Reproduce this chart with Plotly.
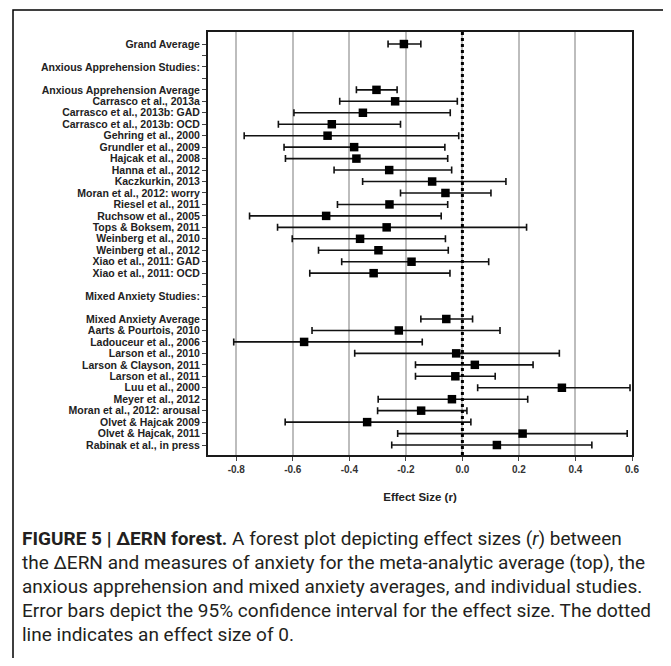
import plotly.graph_objects as go

# ---------------- data ----------------
study_labels = [
    "Grand Average", "", "Anxious Apprehension Studies:", "",
    "Anxious Apprehension Average",
    "Carrasco et al., 2013a", "Carrasco et al., 2013b: GAD", "Carrasco et al., 2013b: OCD",
    "Gehring et al., 2000", "Grundler et al., 2009", "Hajcak et al., 2008",
    "Hanna et al., 2012", "Kaczkurkin, 2013", "Moran et al., 2012: worry",
    "Riesel et al., 2011", "Ruchsow et al., 2005", "Tops & Boksem, 2011",
    "Weinberg et al., 2010", "Weinberg et al., 2012", "Xiao et al., 2011: GAD",
    "Xiao et al., 2011: OCD", "", "Mixed Anxiety Studies:", "",
    "Mixed Anxiety Average", "Aarts & Pourtois, 2010", "Ladouceur et al., 2006",
    "Larson et al., 2010", "Larson & Clayson, 2011", "Larson et al., 2011",
    "Luu et al., 2000", "Meyer et al., 2012", "Moran et al., 2012: arousal",
    "Olvet & Hajcak 2009", "Olvet & Hajcak, 2011", "Rabinak et al., in press",
]

effect_r = [
    -0.207, None, None, None,
    -0.304,
    -0.238, -0.352, -0.462,
    -0.477, -0.383, -0.375,
    -0.259, -0.107, -0.060,
    -0.258, -0.482, -0.268,
    -0.362, -0.297, -0.180,
    -0.314, None, None, None,
    -0.057, -0.225, -0.560,
    -0.022, 0.044, -0.025,
    0.352, -0.037, -0.146,
    -0.337, 0.213, 0.122,
]

ci_lower = [
    -0.263, None, None, None,
    -0.375,
    -0.434, -0.596, -0.651,
    -0.772, -0.631, -0.626,
    -0.454, -0.353, -0.219,
    -0.442, -0.753, -0.654,
    -0.602, -0.509, -0.427,
    -0.540, None, None, None,
    -0.147, -0.532, -0.809,
    -0.381, -0.166, -0.166,
    0.054, -0.298, -0.300,
    -0.627, -0.229, -0.250,
]

ci_upper = [
    -0.147, None, None, None,
    -0.231,
    -0.018, -0.043, -0.219,
    -0.013, -0.062, -0.052,
    -0.038, 0.154, 0.101,
    -0.052, -0.075, 0.227,
    -0.060, -0.050, 0.093,
    -0.044, None, None, None,
    0.036, 0.133, -0.142,
    0.343, 0.250, 0.116,
    0.593, 0.231, 0.016,
    0.030, 0.583, 0.458,
]

x_ticks = [-0.8, -0.6, -0.4, -0.2, 0.0, 0.2, 0.4, 0.6]
x_tick_text = ["-0.8", "-0.6", "-0.4", "-0.2", "0.0", "0.2", "0.4", "0.6"]

caption_lines = [
    "<b>FIGURE 5 | \u0394ERN forest.</b> A forest plot depicting effect sizes (<i>r</i>) between",
    "the \u0394ERN and measures of anxiety for the meta-analytic average (top), the",
    "anxious apprehension and mixed anxiety averages, and individual studies.",
    "Error bars depict the 95% confidence interval for the effect size. The dotted",
    "line indicates an effect size of 0.",
]

# ---------------- build ----------------
rows = list(range(len(study_labels)))
ys, xs, plus, minus = [], [], [], []
for i, (e, lo, hi) in enumerate(zip(effect_r, ci_lower, ci_upper)):
    if e is None:
        continue
    ys.append(i)
    xs.append(e)
    plus.append(hi - e)
    minus.append(e - lo)

OFF = 8  # default page (body) margin of the browser
W, H = 671 - OFF, 666 - 2 * OFF
# plot area in page pixels
L, R, T, B = 208, 632, 32, 455
pw, ph = R - L, B - T

def px_x(px):
    return (px - L) / pw

def px_y(py):
    return (B - py) / ph

fig = go.Figure()
fig.add_trace(go.Scatter(
    x=xs, y=ys, mode="markers",
    marker=dict(symbol="square", size=8.5, color="black"),
    error_x=dict(type="data", symmetric=False, array=plus, arrayminus=minus,
                 color="#111", thickness=1.6, width=3.5),
    showlegend=False, hoverinfo="skip",
))

# zero reference line (dotted)
fig.add_shape(type="line", xref="x", yref="paper", x0=0, x1=0, y0=0, y1=1,
              line=dict(color="black", width=3, dash="dot"), layer="above")

# outer border box around figure
fig.add_shape(type="path", xref="paper", yref="paper",
              path=f"M {px_x(13)} {px_y(700)} L {px_x(13)} {px_y(10)} L {px_x(669)} {px_y(10)} L {px_x(669)} {px_y(700)}",
              line=dict(color="black", width=1.5), layer="above")

# caption
for k, line in enumerate(caption_lines):
    fig.add_annotation(
        xref="paper", yref="paper", x=px_x(20), y=px_y(538 + 24 * k),
        xanchor="left", yanchor="middle", showarrow=False, align="left",
        text=line, font=dict(family="Roboto", size=19, color="#231f20"),
    )

fig.update_layout(
    width=W, height=H,
    margin=dict(l=L - OFF, r=(W + OFF) - R, t=T - OFF, b=(H + OFF) - B, pad=0),
    paper_bgcolor="white", plot_bgcolor="white",
    font=dict(family="Liberation Sans, Arial", color="#222"),
)

fig.update_xaxes(
    range=[-0.9, 0.6], tickvals=x_ticks, ticktext=x_tick_text,
    showgrid=True, gridcolor="#bdbdbd", gridwidth=1.5,
    zeroline=False,
    showline=True, linecolor="#1a1a1a", linewidth=2, mirror=True,
    ticks="outside", ticklen=4, tickcolor="#444", tickwidth=1,
    tickfont=dict(family="Liberation Sans, Arial", size=10, color="#333", weight="bold"),
    title=dict(text="Effect Size (r)", standoff=19,
               font=dict(family="Liberation Sans, Arial", size=11.5, color="#222", weight="bold")),
)

fig.update_yaxes(
    range=[35.87, -1.05], tickvals=rows, ticktext=study_labels,
    showgrid=False, zeroline=False,
    showline=True, linecolor="#1a1a1a", linewidth=2, mirror=True,
    ticks="outside", ticklen=4, tickcolor="#444", tickwidth=1,
    tickfont=dict(family="Liberation Sans, Arial", size=10.5, color="#222", weight="bold"),
)

fig.write_html("out.html")
